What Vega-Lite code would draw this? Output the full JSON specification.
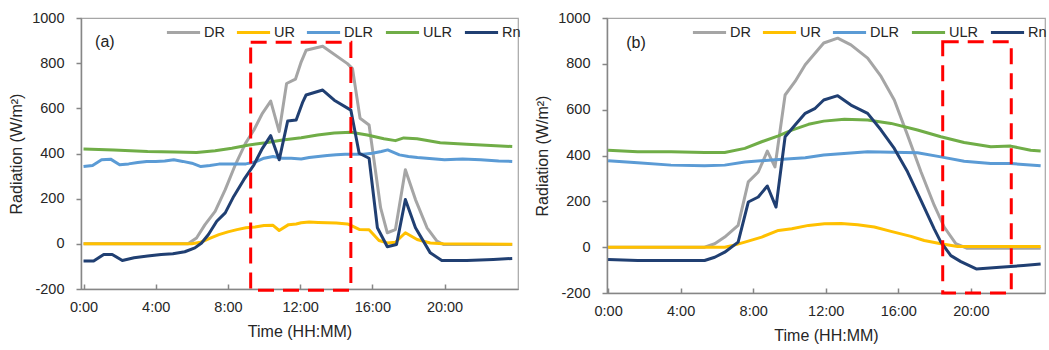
{
  "$schema": "https://vega.github.io/schema/vega-lite/v6.json",
  "padding": {"left": 8, "top": 9, "right": 0, "bottom": 0},
  "background": "white",
  "config": {
    "font": "Liberation Sans",
    "view": {"stroke": "#a6a6a6", "strokeWidth": 1.2},
    "concat": {"spacing": 12},
    "axis": {
      "labelFont": "Liberation Sans", "labelFontSize": 14.5, "labelColor": "#262626",
      "titleFont": "Liberation Sans", "titleFontSize": 16, "titleFontWeight": "normal", "titleColor": "#262626",
      "domainColor": "#868686", "domainWidth": 1.5, "tickColor": "#868686", "tickWidth": 1.5,
      "tickSize": 5, "labelPadding": 8, "grid": false
    }
  },
  "datasets": {
    "a": [
      {"s":"DR","h":0,"v":0},{"s":"DR","h":5.79,"v":0},{"s":"DR","h":6.26,"v":26},{"s":"DR","h":6.73,"v":85},{"s":"DR","h":7.29,"v":144},{"s":"DR","h":7.85,"v":240},{"s":"DR","h":8.41,"v":350},{"s":"DR","h":8.97,"v":445},{"s":"DR","h":9.44,"v":504},{"s":"DR","h":9.91,"v":578},{"s":"DR","h":10.37,"v":632},{"s":"DR","h":10.84,"v":497},{"s":"DR","h":11.25,"v":710},{"s":"DR","h":11.74,"v":729},{"s":"DR","h":12.06,"v":806},{"s":"DR","h":12.33,"v":857},{"s":"DR","h":13.25,"v":875},{"s":"DR","h":14.62,"v":798},{"s":"DR","h":14.9,"v":776},{"s":"DR","h":15.32,"v":556},{"s":"DR","h":15.82,"v":526},{"s":"DR","h":16.46,"v":159},{"s":"DR","h":16.83,"v":49},{"s":"DR","h":17.28,"v":63},{"s":"DR","h":17.83,"v":328},{"s":"DR","h":18.39,"v":196},{"s":"DR","h":19.03,"v":71},{"s":"DR","h":19.58,"v":12},{"s":"DR","h":19.94,"v":-3},{"s":"DR","h":23.75,"v":-3},
      {"s":"UR","h":0,"v":0},{"s":"UR","h":6.0,"v":0},{"s":"UR","h":6.49,"v":7},{"s":"UR","h":6.99,"v":24},{"s":"UR","h":7.5,"v":41},{"s":"UR","h":8.0,"v":53},{"s":"UR","h":8.5,"v":63},{"s":"UR","h":9.0,"v":71},{"s":"UR","h":9.5,"v":75},{"s":"UR","h":10.0,"v":81},{"s":"UR","h":10.5,"v":82},{"s":"UR","h":10.84,"v":59},{"s":"UR","h":11.36,"v":85},{"s":"UR","h":11.78,"v":88},{"s":"UR","h":12.06,"v":93},{"s":"UR","h":12.5,"v":97},{"s":"UR","h":13.0,"v":95},{"s":"UR","h":14.0,"v":92},{"s":"UR","h":14.62,"v":88},{"s":"UR","h":14.9,"v":78},{"s":"UR","h":15.3,"v":63},{"s":"UR","h":15.82,"v":62},{"s":"UR","h":16.37,"v":15},{"s":"UR","h":16.83,"v":4},{"s":"UR","h":17.28,"v":7},{"s":"UR","h":17.83,"v":49},{"s":"UR","h":18.48,"v":19},{"s":"UR","h":19.21,"v":4},{"s":"UR","h":19.94,"v":0},{"s":"UR","h":23.75,"v":-2},
      {"s":"DLR","h":0,"v":342},{"s":"DLR","h":0.5,"v":347},{"s":"DLR","h":1.0,"v":372},{"s":"DLR","h":1.5,"v":375},{"s":"DLR","h":2.0,"v":350},{"s":"DLR","h":2.5,"v":354},{"s":"DLR","h":3.0,"v":360},{"s":"DLR","h":3.5,"v":365},{"s":"DLR","h":4.0,"v":365},{"s":"DLR","h":4.5,"v":367},{"s":"DLR","h":5.0,"v":372},{"s":"DLR","h":5.5,"v":365},{"s":"DLR","h":6.0,"v":357},{"s":"DLR","h":6.5,"v":342},{"s":"DLR","h":7.0,"v":347},{"s":"DLR","h":7.5,"v":353},{"s":"DLR","h":8.0,"v":354},{"s":"DLR","h":8.5,"v":354},{"s":"DLR","h":9.0,"v":354},{"s":"DLR","h":9.5,"v":362},{"s":"DLR","h":10.0,"v":379},{"s":"DLR","h":10.5,"v":387},{"s":"DLR","h":11.0,"v":379},{"s":"DLR","h":11.5,"v":379},{"s":"DLR","h":12.06,"v":376},{"s":"DLR","h":12.5,"v":382},{"s":"DLR","h":13.0,"v":387},{"s":"DLR","h":13.5,"v":391},{"s":"DLR","h":14.0,"v":394},{"s":"DLR","h":14.5,"v":397},{"s":"DLR","h":15.0,"v":397},{"s":"DLR","h":15.5,"v":397},{"s":"DLR","h":16.0,"v":401},{"s":"DLR","h":16.5,"v":409},{"s":"DLR","h":16.85,"v":416},{"s":"DLR","h":17.5,"v":394},{"s":"DLR","h":18.0,"v":387},{"s":"DLR","h":18.5,"v":382},{"s":"DLR","h":19.0,"v":379},{"s":"DLR","h":19.5,"v":376},{"s":"DLR","h":20.0,"v":372},{"s":"DLR","h":21.0,"v":376},{"s":"DLR","h":22.0,"v":372},{"s":"DLR","h":23.0,"v":367},{"s":"DLR","h":23.75,"v":365},
      {"s":"ULR","h":0,"v":420},{"s":"ULR","h":1.68,"v":416},{"s":"ULR","h":3.55,"v":409},{"s":"ULR","h":5.05,"v":407},{"s":"ULR","h":6.26,"v":404},{"s":"ULR","h":7.29,"v":412},{"s":"ULR","h":8.22,"v":423},{"s":"ULR","h":9.16,"v":438},{"s":"ULR","h":10.09,"v":448},{"s":"ULR","h":11.03,"v":460},{"s":"ULR","h":12.06,"v":470},{"s":"ULR","h":12.97,"v":482},{"s":"ULR","h":13.89,"v":491},{"s":"ULR","h":14.81,"v":494},{"s":"ULR","h":15.72,"v":482},{"s":"ULR","h":16.64,"v":465},{"s":"ULR","h":17.28,"v":457},{"s":"ULR","h":17.74,"v":469},{"s":"ULR","h":18.48,"v":465},{"s":"ULR","h":19.76,"v":448},{"s":"ULR","h":21.23,"v":441},{"s":"ULR","h":22.57,"v":435},{"s":"ULR","h":23.75,"v":431},
      {"s":"Rn","h":0,"v":-76},{"s":"Rn","h":0.56,"v":-76},{"s":"Rn","h":1.12,"v":-47},{"s":"Rn","h":1.59,"v":-47},{"s":"Rn","h":2.15,"v":-74},{"s":"Rn","h":2.8,"v":-62},{"s":"Rn","h":3.55,"v":-54},{"s":"Rn","h":4.3,"v":-47},{"s":"Rn","h":4.95,"v":-44},{"s":"Rn","h":5.61,"v":-35},{"s":"Rn","h":6.17,"v":-18},{"s":"Rn","h":6.54,"v":4},{"s":"Rn","h":6.92,"v":41},{"s":"Rn","h":7.38,"v":100},{"s":"Rn","h":7.85,"v":137},{"s":"Rn","h":8.32,"v":210},{"s":"Rn","h":8.88,"v":284},{"s":"Rn","h":9.44,"v":350},{"s":"Rn","h":9.91,"v":423},{"s":"Rn","h":10.37,"v":479},{"s":"Rn","h":10.84,"v":372},{"s":"Rn","h":11.31,"v":544},{"s":"Rn","h":11.78,"v":548},{"s":"Rn","h":12.15,"v":629},{"s":"Rn","h":12.33,"v":659},{"s":"Rn","h":13.25,"v":681},{"s":"Rn","h":13.89,"v":636},{"s":"Rn","h":14.81,"v":592},{"s":"Rn","h":15.27,"v":401},{"s":"Rn","h":15.82,"v":379},{"s":"Rn","h":16.28,"v":71},{"s":"Rn","h":16.83,"v":-13},{"s":"Rn","h":17.34,"v":-3},{"s":"Rn","h":17.83,"v":196},{"s":"Rn","h":18.39,"v":71},{"s":"Rn","h":19.21,"v":-40},{"s":"Rn","h":19.85,"v":-74},{"s":"Rn","h":21.23,"v":-74},{"s":"Rn","h":22.7,"v":-69},{"s":"Rn","h":23.75,"v":-65}
    ],
    "b": [
      {"s":"DR","h":0,"v":0},{"s":"DR","h":5.32,"v":0},{"s":"DR","h":5.88,"v":15},{"s":"DR","h":6.43,"v":44},{"s":"DR","h":7.17,"v":95},{"s":"DR","h":7.73,"v":285},{"s":"DR","h":8.28,"v":328},{"s":"DR","h":8.78,"v":419},{"s":"DR","h":9.2,"v":350},{"s":"DR","h":9.76,"v":664},{"s":"DR","h":10.31,"v":723},{"s":"DR","h":10.87,"v":796},{"s":"DR","h":11.42,"v":847},{"s":"DR","h":11.89,"v":891},{"s":"DR","h":12.66,"v":912},{"s":"DR","h":13.39,"v":883},{"s":"DR","h":14.31,"v":825},{"s":"DR","h":15.05,"v":745},{"s":"DR","h":15.78,"v":642},{"s":"DR","h":16.51,"v":489},{"s":"DR","h":17.25,"v":329},{"s":"DR","h":17.98,"v":183},{"s":"DR","h":18.53,"v":88},{"s":"DR","h":19.17,"v":15},{"s":"DR","h":19.8,"v":-5},{"s":"DR","h":23.85,"v":-5},
      {"s":"UR","h":0,"v":0},{"s":"UR","h":6.43,"v":0},{"s":"UR","h":7.0,"v":10},{"s":"UR","h":7.54,"v":22},{"s":"UR","h":8.47,"v":44},{"s":"UR","h":9.39,"v":73},{"s":"UR","h":10.13,"v":80},{"s":"UR","h":11.05,"v":95},{"s":"UR","h":11.93,"v":102},{"s":"UR","h":12.85,"v":103},{"s":"UR","h":13.76,"v":98},{"s":"UR","h":14.68,"v":88},{"s":"UR","h":15.6,"v":69},{"s":"UR","h":16.7,"v":47},{"s":"UR","h":17.43,"v":29},{"s":"UR","h":18.35,"v":15},{"s":"UR","h":19.27,"v":3},{"s":"UR","h":23.85,"v":3},
      {"s":"DLR","h":0,"v":377},{"s":"DLR","h":1.63,"v":368},{"s":"DLR","h":3.47,"v":358},{"s":"DLR","h":5.32,"v":355},{"s":"DLR","h":6.43,"v":358},{"s":"DLR","h":7.54,"v":372},{"s":"DLR","h":9.02,"v":380},{"s":"DLR","h":10.87,"v":390},{"s":"DLR","h":11.89,"v":402},{"s":"DLR","h":14.31,"v":416},{"s":"DLR","h":17.06,"v":412},{"s":"DLR","h":18.35,"v":394},{"s":"DLR","h":19.63,"v":375},{"s":"DLR","h":21.1,"v":365},{"s":"DLR","h":22.2,"v":365},{"s":"DLR","h":23.85,"v":355},
      {"s":"ULR","h":0,"v":423},{"s":"ULR","h":1.63,"v":416},{"s":"ULR","h":3.47,"v":416},{"s":"ULR","h":5.32,"v":413},{"s":"ULR","h":6.43,"v":413},{"s":"ULR","h":7.54,"v":431},{"s":"ULR","h":8.47,"v":460},{"s":"ULR","h":9.39,"v":486},{"s":"ULR","h":10.13,"v":511},{"s":"ULR","h":11.05,"v":536},{"s":"ULR","h":11.89,"v":550},{"s":"ULR","h":13.03,"v":558},{"s":"ULR","h":14.31,"v":555},{"s":"ULR","h":15.6,"v":540},{"s":"ULR","h":17.06,"v":511},{"s":"ULR","h":18.35,"v":482},{"s":"ULR","h":19.63,"v":457},{"s":"ULR","h":21.1,"v":438},{"s":"ULR","h":22.2,"v":441},{"s":"ULR","h":23.3,"v":423},{"s":"ULR","h":23.85,"v":420},
      {"s":"Rn","h":0,"v":-54},{"s":"Rn","h":1.63,"v":-58},{"s":"Rn","h":3.47,"v":-58},{"s":"Rn","h":5.32,"v":-58},{"s":"Rn","h":5.88,"v":-44},{"s":"Rn","h":6.43,"v":-22},{"s":"Rn","h":7.17,"v":22},{"s":"Rn","h":7.73,"v":197},{"s":"Rn","h":8.28,"v":219},{"s":"Rn","h":8.78,"v":267},{"s":"Rn","h":9.26,"v":175},{"s":"Rn","h":9.76,"v":482},{"s":"Rn","h":10.31,"v":533},{"s":"Rn","h":10.87,"v":584},{"s":"Rn","h":11.42,"v":606},{"s":"Rn","h":11.89,"v":642},{"s":"Rn","h":12.66,"v":661},{"s":"Rn","h":13.39,"v":620},{"s":"Rn","h":14.31,"v":584},{"s":"Rn","h":15.05,"v":511},{"s":"Rn","h":15.78,"v":431},{"s":"Rn","h":16.51,"v":329},{"s":"Rn","h":17.25,"v":204},{"s":"Rn","h":17.98,"v":80},{"s":"Rn","h":18.35,"v":22},{"s":"Rn","h":18.9,"v":-37},{"s":"Rn","h":19.45,"v":-63},{"s":"Rn","h":20.3,"v":-95},{"s":"Rn","h":21.6,"v":-88},{"s":"Rn","h":22.9,"v":-80},{"s":"Rn","h":23.85,"v":-73}
    ],
    "boxa": [{"x1": 9.26, "x2": 14.81, "y1": 893, "y2": -205}],
    "boxb": [{"x1": 18.45, "x2": 22.23, "y1": 896, "y2": -200}],
    "laba": [{"t": "(a)", "h": 0.64, "v": 895}],
    "labb": [{"t": "(b)", "h": 1.0, "v": 890}]
  },
  "resolve": {"scale": {"color": "independent"}, "legend": {"color": "independent"}},
  "hconcat": [
    {
      "width": 437, "height": 271,
      "layer": [
        {
          "data": {"name": "a"},
          "mark": {"type": "line", "strokeWidth": 3, "strokeJoin": "round"},
          "encoding": {
            "x": {"field": "h", "type": "quantitative", "scale": {"domain": [-0.14, 24.07], "nice": false, "zero": false},
                  "axis": {"values": [0,4,8,12,16,20], "labelExpr": "datum.value + ':00'", "title": "Time (HH:MM)", "titlePadding": 10, "tickSize": -5, "labelPadding": 16, "labelFontSize": 14.5, "titleFontSize": 16}},
            "y": {"field": "v", "type": "quantitative", "scale": {"domain": [-200, 1000], "nice": false},
                  "axis": {"values": [-200,0,200,400,600,800,1000], "labelExpr": "'' + datum.value", "title": "Radiation (W/m²)", "titlePadding": 7, "labelPadding": 12, "labelFontSize": 14.5, "titleFontSize": 16}},
            "color": {"field": "s", "type": "nominal",
                      "scale": {"domain": ["DR","UR","DLR","ULR","Rn"], "range": ["#A5A5A5","#FFC000","#5B9BD5","#70AD47","#203F72"]},
                      "legend": {"orient": "none", "legendX": 84, "legendY": -4, "direction": "horizontal", "title": null, "symbolType": "stroke", "symbolSize": 1100, "symbolStrokeWidth": 3, "labelFontSize": 14.5, "labelFont": "Liberation Sans", "labelColor": "#262626", "labelOffset": 2, "columnPadding": 5, "padding": 0}}
          }
        },
        {
          "data": {"name": "boxa"},
          "mark": {"type": "rect", "fill": null, "stroke": "#FF0000", "strokeWidth": 3, "strokeDash": [16, 9]},
          "encoding": {"x": {"field": "x1", "type": "quantitative"}, "x2": {"field": "x2"}, "y": {"field": "y1", "type": "quantitative"}, "y2": {"field": "y2"}}
        },
        {
          "data": {"name": "laba"},
          "mark": {"type": "text", "align": "left", "baseline": "middle", "fontSize": 16, "font": "Liberation Sans", "color": "#222222"},
          "encoding": {"x": {"field": "h", "type": "quantitative"}, "y": {"field": "v", "type": "quantitative"}, "text": {"field": "t"}}
        }
      ]
    },
    {
      "width": 438, "height": 275,
      "layer": [
        {
          "data": {"name": "b"},
          "mark": {"type": "line", "strokeWidth": 3, "strokeJoin": "round"},
          "encoding": {
            "x": {"field": "h", "type": "quantitative", "scale": {"domain": [-0.06, 24.09], "nice": false, "zero": false},
                  "axis": {"values": [0,4,8,12,16,20], "labelExpr": "datum.value + ':00'", "title": "Time (HH:MM)", "titlePadding": 10, "tickSize": -5, "labelPadding": 16, "labelFontSize": 14.5, "titleFontSize": 16}},
            "y": {"field": "v", "type": "quantitative", "scale": {"domain": [-200, 1000], "nice": false},
                  "axis": {"values": [-200,0,200,400,600,800,1000], "labelExpr": "'' + datum.value", "title": "Radiation (W/m²)", "titlePadding": 7, "labelPadding": 12, "labelFontSize": 14.5, "titleFontSize": 16}},
            "color": {"field": "s", "type": "nominal",
                      "scale": {"domain": ["DR","UR","DLR","ULR","Rn"], "range": ["#A5A5A5","#FFC000","#5B9BD5","#70AD47","#203F72"]},
                      "legend": {"orient": "none", "legendX": 84, "legendY": -4, "direction": "horizontal", "title": null, "symbolType": "stroke", "symbolSize": 1100, "symbolStrokeWidth": 3, "labelFontSize": 14.5, "labelFont": "Liberation Sans", "labelColor": "#262626", "labelOffset": 2, "columnPadding": 5, "padding": 0}}
          }
        },
        {
          "data": {"name": "boxb"},
          "mark": {"type": "rect", "fill": null, "stroke": "#FF0000", "strokeWidth": 3, "strokeDash": [16, 9]},
          "encoding": {"x": {"field": "x1", "type": "quantitative"}, "x2": {"field": "x2"}, "y": {"field": "y1", "type": "quantitative"}, "y2": {"field": "y2"}}
        },
        {
          "data": {"name": "labb"},
          "mark": {"type": "text", "align": "left", "baseline": "middle", "fontSize": 16, "font": "Liberation Sans", "color": "#222222"},
          "encoding": {"x": {"field": "h", "type": "quantitative"}, "y": {"field": "v", "type": "quantitative"}, "text": {"field": "t"}}
        }
      ]
    }
  ]
}
